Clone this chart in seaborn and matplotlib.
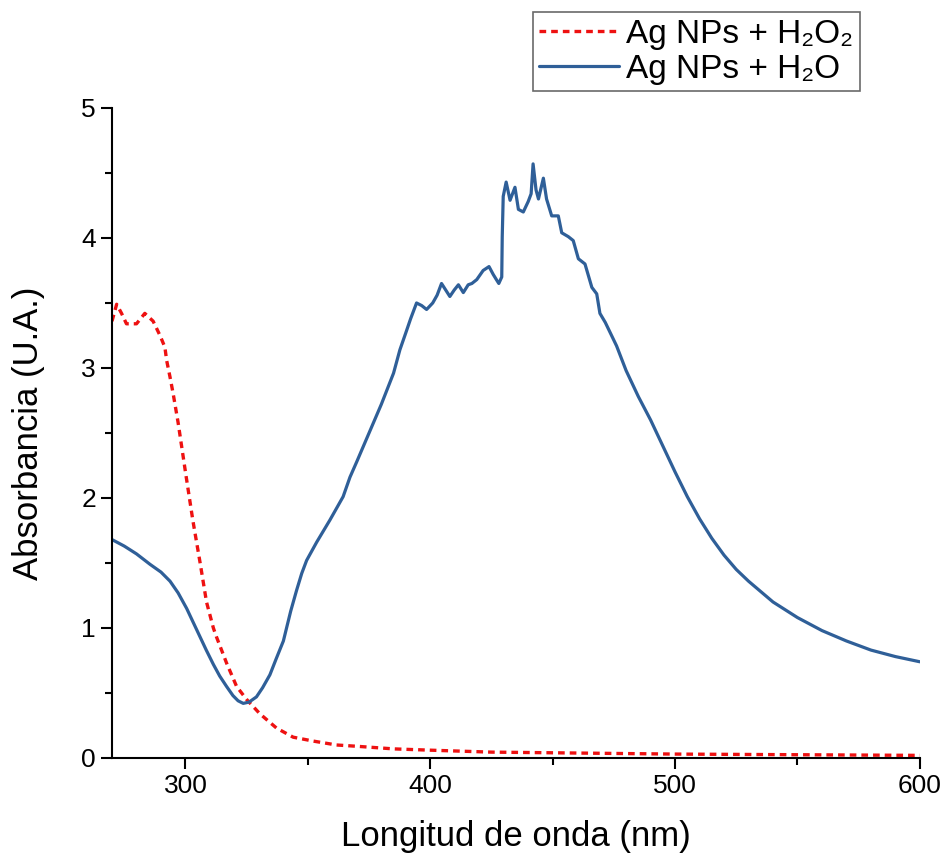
import matplotlib
matplotlib.use("Agg")
import matplotlib.pyplot as plt
from matplotlib.ticker import MultipleLocator
import seaborn as sns
import pandas as pd

# Ag NPs + H2O2 (red dashed)
wl_h2o2 = [270, 271.9, 273.9, 275.9, 280, 283.4, 286.8, 289.6, 291.6, 292.3, 293.7,
           295, 297, 300, 303, 306, 308.6, 311.4, 312.7, 316.8, 320.9, 325, 330.4,
           337.2, 344, 352.2, 361.7, 370, 385, 400, 425, 450, 500, 550, 600]
abs_h2o2 = [3.36, 3.49, 3.42, 3.34, 3.34, 3.42, 3.36, 3.25, 3.16, 3.06, 2.93,
            2.8, 2.58, 2.2, 1.83, 1.5, 1.2, 1.0, 0.93, 0.73, 0.55, 0.45, 0.34,
            0.23, 0.16, 0.13, 0.10, 0.09, 0.07, 0.06, 0.045, 0.04, 0.03, 0.025, 0.02]

# Ag NPs + H2O (blue solid)
wl_h2o = [270, 275, 280, 285.5, 290, 293.7, 297, 300.5, 303, 306, 308.5, 311.4,
          314, 316.8, 319.4, 321.5, 323.6, 326, 329, 331.5, 334.5, 337, 340, 341.3,
          343, 345.4, 347.5, 349.5, 353.6, 359, 364.4, 367.2, 370, 375, 380, 385,
          387.6, 390, 392, 394.4, 396.5, 398.5, 401, 402.8, 404.6, 406.3, 408,
          409.8, 411.5, 413.5, 415.5, 417, 419, 421.6, 424, 425.7, 427, 428, 429.2,
          429.4, 429.8, 431, 432.6, 434.6, 436, 438, 440, 441.2, 442, 443.2, 444.2,
          446.2, 447.5, 449.6, 452.3, 453.7, 456.4, 458.4, 460.5, 463.2, 466, 468,
          469.3, 471.5, 476.1, 480, 485, 490, 495, 500, 505, 510, 515, 520, 525,
          530, 540, 550, 560, 570, 580, 590, 600]
abs_h2o = [1.68, 1.63, 1.57, 1.49, 1.43, 1.36, 1.27, 1.15, 1.05, 0.93, 0.83, 0.72,
           0.63, 0.55, 0.48, 0.44, 0.42, 0.43, 0.47, 0.54, 0.64, 0.76, 0.9, 1.0,
           1.13, 1.29, 1.42, 1.52, 1.66, 1.83, 2.01, 2.16, 2.28, 2.5, 2.72, 2.96,
           3.14, 3.27, 3.38, 3.5, 3.48, 3.45, 3.5, 3.56, 3.65, 3.6, 3.55,
           3.6, 3.64, 3.58, 3.64, 3.65, 3.68, 3.75, 3.78, 3.72, 3.68, 3.65, 3.70,
           4.01, 4.32, 4.43, 4.29, 4.39, 4.22, 4.2, 4.28, 4.34, 4.57, 4.37, 4.30,
           4.46, 4.30, 4.17, 4.17, 4.04, 4.01, 3.98, 3.84, 3.80, 3.62, 3.57,
           3.42, 3.35, 3.17, 2.98, 2.78, 2.6, 2.4, 2.2, 2.01, 1.84, 1.69, 1.56, 1.45,
           1.36, 1.2, 1.08, 0.98, 0.9, 0.83, 0.78, 0.74]

df_red = pd.DataFrame({"wl": wl_h2o2, "A": abs_h2o2})
df_blue = pd.DataFrame({"wl": wl_h2o, "A": abs_h2o})

sns.set_style("ticks")
plt.rcParams['font.family'] = ['Liberation Sans', 'DejaVu Sans']
plt.rcParams.update({"text.color": "black", "axes.labelcolor": "black",
                     "xtick.color": "black", "ytick.color": "black"})

fig = plt.figure(figsize=(9.46, 8.59), dpi=100)
ax = fig.add_axes([0.1184, 0.1176, 0.854, 0.7567])

sns.lineplot(data=df_red, x="wl", y="A", ax=ax, color="#ee1111", lw=2.4,
             linestyle=(0, (2.0, 1.5)), label="Ag NPs + H\u2082O\u2082")
sns.lineplot(data=df_blue, x="wl", y="A", ax=ax, color="#2f5f98", lw=2.3,
             label="Ag NPs + H\u2082O")

ax.set_xlim(270, 600)
ax.set_ylim(0, 5)
ax.xaxis.set_major_locator(MultipleLocator(100))
ax.xaxis.set_minor_locator(MultipleLocator(50))
ax.yaxis.set_major_locator(MultipleLocator(1))
ax.yaxis.set_minor_locator(MultipleLocator(0.5))
ax.tick_params(which="major", direction="out", length=8, width=1.5,
               labelsize=19, color="black", labelcolor="black")
ax.tick_params(which="minor", direction="out", length=5, width=1.5, color="black")
for s in ["top", "right"]:
    ax.spines[s].set_visible(False)
for s in ["left", "bottom"]:
    ax.spines[s].set_linewidth(1.5)
    ax.spines[s].set_color("black")

ax.set_xlabel("Longitud de onda (nm)", fontsize=25, labelpad=16)
ax.set_ylabel("Absorbancia (U.A.)", fontsize=25, labelpad=26)

ax.get_legend().remove()
h, l = ax.get_legend_handles_labels()
leg = fig.legend(h, l, loc="upper left", bbox_to_anchor=(0.563, 0.986),
                 fontsize=24, frameon=True, fancybox=False, handlelength=2.4,
                 handletextpad=0.2, borderpad=0.2, labelspacing=0.12,
                 borderaxespad=0)
leg.get_frame().set_edgecolor("#444444")
leg.get_frame().set_linewidth(1.2)

fig.savefig("out.png", dpi=100)
